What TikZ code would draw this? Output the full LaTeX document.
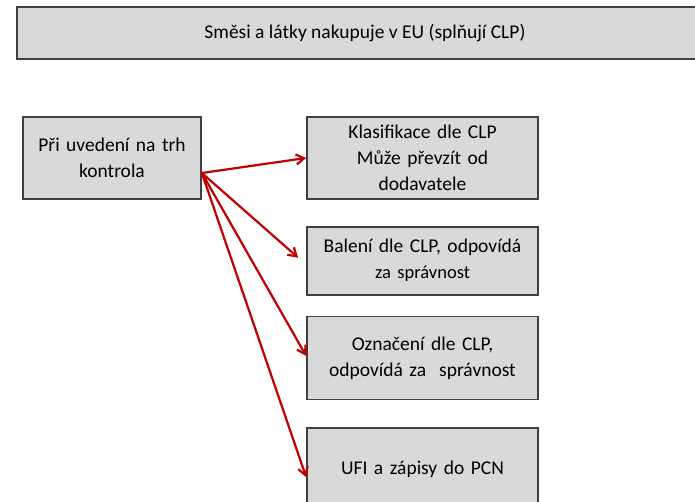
\documentclass[tikz,border=0pt]{standalone}
\usepackage{fontspec}
\setmainfont{Carlito}
\usetikzlibrary{positioning, arrows.meta, calc}

\definecolor{boxfill}{RGB}{217,217,217}
\definecolor{boxline}{RGB}{64,64,64}
\definecolor{arrred}{RGB}{192,0,0}

\begin{document}
\begin{tikzpicture}[x=1pt, y=-1pt,
  box/.style={draw=boxline, fill=boxfill, line width=1.7pt, align=center,
              inner sep=4pt, font=\fontsize{19.5}{26}\selectfont},
  rbox/.style={box, minimum width=231pt, text width=222pt},
  arr/.style={-{Straight Barb[length=8pt, width=10pt]}, line width=2.2pt, color=arrred},
]
\useasboundingbox (0,0) rectangle (695,502);
\clip (0,0) rectangle (695,502);

% === Nodes ===
\node[box, minimum width=696pt, minimum height=52pt] (eu) at (365,33)
  {Směsi a látky nakupuje v EU (splňují CLP)};

\node[box, minimum width=178pt, minimum height=82pt, text width=170pt] (ctrl) at (112,158)
  {Při uvedení na trh\\kontrola};

\node[rbox, minimum height=82pt] (klas) at (422.5,158)
  {Klasifikace dle CLP\\Může převzít od\\dodavatele};
\node[rbox, minimum height=68pt, below=26pt of klas] (bal)
  {Balení dle CLP, odpovídá\\{\fontsize{18.5}{24}\selectfont za správnost}};
\node[rbox, minimum height=83pt, below=20pt of bal] (ozn)
  {Označení dle CLP,\\odpovídá za\ \ správnost};
\node[rbox, minimum height=82pt, below=27pt of ozn] (ufi)
  {UFI a zápisy do PCN};

\coordinate (src) at ($(ctrl.east)+(0,15)$);

% === Arrows ===
\draw[arr] (src) -- (klas.west);
\draw[arr] (src) -- ($(bal.west)+(-8,-3)$);
\draw[arr] (src) -- ($(ozn.west)+(0,-2)$);
\draw[arr] (src) -- ($(ufi.west)+(0,8)$);

\end{tikzpicture}
\end{document}
